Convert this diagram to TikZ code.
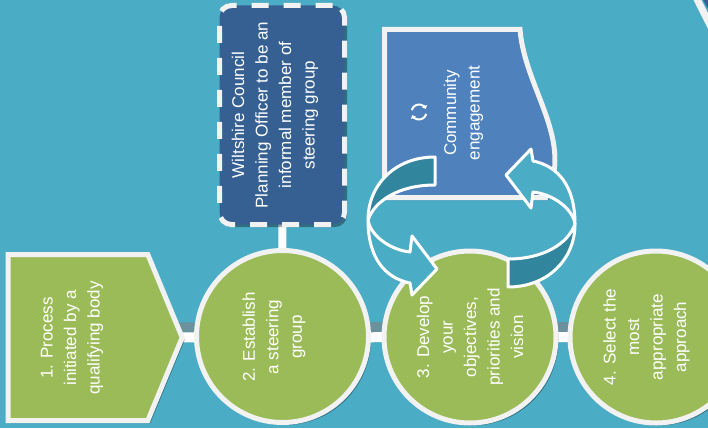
\documentclass[tikz,border=0pt]{standalone}
\usepackage{fontspec}
\setmainfont{Liberation Sans}
\usetikzlibrary{shapes.symbols,shadows,backgrounds,arrows.meta}
\definecolor{bg}{HTML}{4BACC6}
\definecolor{leaf}{HTML}{9BBB59}
\definecolor{rim}{HTML}{F2F2F2}
\definecolor{navy}{HTML}{366092}
\definecolor{commblue}{HTML}{4F81BD}
\definecolor{ringdark}{HTML}{31859C}
\newcommand{\stagefont}{\fontsize{17}{23.5}\selectfont}
\tikzset{
  boxshadow/.style={drop shadow={shadow xshift=2.5pt,shadow yshift=-2.5pt,opacity=.35,fill=black}},
  stage/.style={circle, draw=rim, line width=5pt, fill=leaf, minimum size=172pt, inner sep=0pt, boxshadow},
  stagetext/.style={rotate=90, align=center, text=white, font=\stagefont, inner sep=0pt},
  officerbox/.style={rectangle, rounded corners=12pt, draw=rim, line width=5pt, dash pattern=on 17pt off 15pt, fill=navy, minimum width=125pt, minimum height=219pt, inner sep=0pt, boxshadow},
  link/.style={draw=white, line width=10pt},
  linkshade/.style={draw=gray, opacity=.6, line width=10pt, transform canvas={yshift=10pt}},
  ring/.style={draw=white, line width=3pt, line join=round},
}
\begin{document}
\begin{tikzpicture}[x=1pt,y=-1pt]
\useasboundingbox (0,0) rectangle (708,428);
\clip (0,0) rectangle (708,428);
% corner of the next shape
\fill[navy] (702,-2) -- (712,-2) -- (712,16) -- cycle;
\draw[rim, line width=7pt] (696,-3) -- (711,27);
% stages
\node[signal, signal to=east, signal pointer angle=135, draw=rim, line width=5pt, fill=leaf, minimum width=174pt, minimum height=166pt, inner sep=0pt, boxshadow] (p1) at (78,337.5) {};
\node[stagetext] (t1) at (72,338) {1. Process\\initiated by a\\qualifying body};
\node[stage] (c2) at (282.5,336.5) {};
\node[stagetext] (t2) at (274,337) {2. Establish\\a steering\\group};
\node[stage] (c3) at (470,337) {};
\node[stagetext] (t3) at (470,337) {3. Develop\\your\\objectives,\\priorities and\\vision};
\node[stage] (c4) at (656,337) {};
\node[stagetext] (t4) at (646.5,337) {4. Select the\\most\\appropriate\\approach};
\node[officerbox] (officer) at (282,115) {};
\node[stagetext] (t5) at (275,115) {Wiltshire Council\\Planning Officer to be an\\informal member of\\steering group};
% community engagement
\filldraw[draw=rim, line width=5pt, fill=commblue, boxshadow] (384.5,29.5) -- (520,29.5) .. controls (525,90) and (575,140) .. (546,197.5) -- (384.5,197.5) -- cycle;
\node[stagetext] (comm) at (463.5,113) {Community\\engagement};
\draw[white, line width=2pt, -{Triangle[length=3pt,width=5.5pt]}] (419,112) ++(-165:7.5) arc (-165:-25:7.5);
\draw[white, line width=2pt, -{Triangle[length=3pt,width=5.5pt]}] (419,112) ++(15:7.5) arc (15:155:7.5);
% links behind the stages
\begin{scope}[on background layer]
  \fill[bg] (0,0) rectangle (708,428);
  \draw[linkshade] (p1.center) -- (c4.center);
  \draw[link] (p1.center) -- (c4.center);
  \draw[link, line width=8pt] (officer.center) -- (c2.center);
\end{scope}
% circular arrows
\foreach \a in {0,180}{
  \begin{scope}[rotate around={\a:(471.5,222)}]
    \filldraw[ring, fill=ringdark] (435,157) .. controls (395,157) and (368,185) .. (368,220) .. controls (375,200) and (400,185) .. (435,185) -- cycle;
    \filldraw[ring, fill=bg] (368,220) .. controls (370,235) and (390,250) .. (410,252) -- (412,236) -- (437,269) -- (412,295) -- (410,283) .. controls (385,278) and (368,258) .. (368,220) -- cycle;
  \end{scope}
}
\end{tikzpicture}
\end{document}
